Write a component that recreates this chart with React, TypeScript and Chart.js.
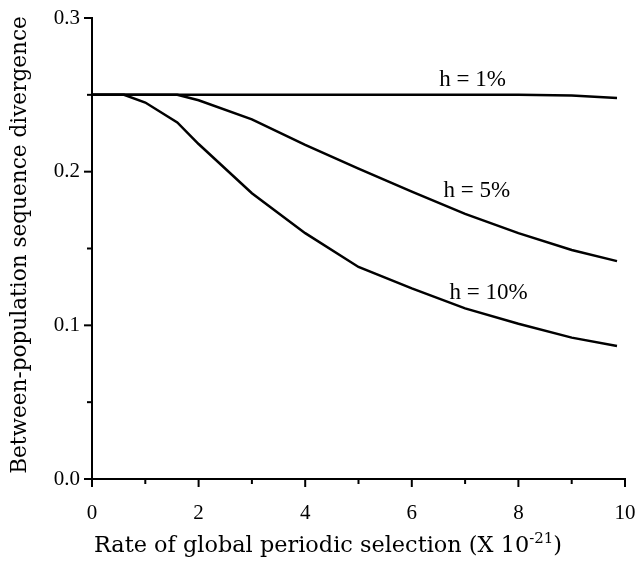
import React, { useEffect, useRef } from "react";
import { Chart, registerables } from "chart.js";

Chart.register(...registerables);

// ---- data ----
const X_VALUES = [0, 0.6, 1, 1.6, 2, 3, 4, 5, 6, 7, 8, 9, 9.85];
const H1 = [0.25, 0.25, 0.25, 0.25, 0.25, 0.25, 0.25, 0.25, 0.25, 0.25, 0.25, 0.2495, 0.248];
const H5 = [0.25, 0.25, 0.25, 0.25, 0.2465, 0.234, 0.2175, 0.202, 0.187, 0.1725, 0.16, 0.149, 0.1418];
const H10 = [0.25, 0.25, 0.245, 0.232, 0.218, 0.186, 0.16, 0.138, 0.124, 0.111, 0.101, 0.092, 0.0865];
const SERIES_NAMES = ["h = 1%", "h = 5%", "h = 10%"];
const LABEL_X = [7.14, 7.22, 7.44];
const LABEL_Y = [0.2596, 0.1874, 0.121];
const X_TICKS = [0, 1, 2, 3, 4, 5, 6, 7, 8, 9, 10];
const Y_TICKS = [0, 0.05, 0.1, 0.15, 0.2, 0.25, 0.3];
const X_TITLE = "Rate of global periodic selection (X 10";
const X_TITLE_SUP = "-21";
const X_TITLE_END = ")";
const Y_TITLE = "Between-population sequence divergence";

const FONT = "'Liberation Serif', 'Times New Roman', serif";
const TITLE_FONT = "'DejaVu Serif', serif";

const decorPlugin = {
  id: "decor",
  afterDraw(chart: any) {
    const ctx = chart.ctx;
    const xs = chart.scales.x;
    const ys = chart.scales.y;
    const area = chart.chartArea;
    ctx.save();
    ctx.strokeStyle = "#000";
    ctx.lineWidth = 2;
    // x ticks
    X_TICKS.forEach((v) => {
      const px = xs.getPixelForValue(v);
      const len = v % 2 === 0 ? 8 : 5;
      ctx.beginPath();
      ctx.moveTo(px, area.bottom);
      ctx.lineTo(px, area.bottom + len);
      ctx.stroke();
    });
    // y ticks
    Y_TICKS.forEach((v, i) => {
      const py = ys.getPixelForValue(v);
      const len = i % 2 === 0 ? 8 : 5;
      ctx.beginPath();
      ctx.moveTo(area.left, py);
      ctx.lineTo(area.left - len, py);
      ctx.stroke();
    });
    // series labels
    ctx.fillStyle = "#000";
    ctx.font = `23px ${FONT}`;
    ctx.textAlign = "center";
    ctx.textBaseline = "middle";
    SERIES_NAMES.forEach((name, i) => {
      ctx.fillText(name, xs.getPixelForValue(LABEL_X[i]), ys.getPixelForValue(LABEL_Y[i]));
    });
    // x title with superscript
    const mainFont = `22.4px ${TITLE_FONT}`;
    const supFont = `15px ${TITLE_FONT}`;
    ctx.font = mainFont;
    const w1 = ctx.measureText(X_TITLE).width;
    const w3 = ctx.measureText(X_TITLE_END).width;
    ctx.font = supFont;
    const w2 = ctx.measureText(X_TITLE_SUP).width;
    const total = w1 + w2 + w3;
    const cx = 328;
    const baseY = 552;
    const x0 = cx - total / 2;
    ctx.textAlign = "left";
    ctx.textBaseline = "alphabetic";
    ctx.font = mainFont;
    ctx.fillText(X_TITLE, x0, baseY);
    ctx.font = supFont;
    ctx.fillText(X_TITLE_SUP, x0 + w1, baseY - 9);
    ctx.font = mainFont;
    ctx.fillText(X_TITLE_END, x0 + w1 + w2, baseY);
    // y title
    ctx.save();
    ctx.translate(26, 245);
    ctx.rotate(-Math.PI / 2);
    ctx.textAlign = "center";
    ctx.textBaseline = "alphabetic";
    ctx.font = `21.6px ${TITLE_FONT}`;
    ctx.fillText(Y_TITLE, 0, 0);
    ctx.restore();
    ctx.restore();
  },
};

export default function App() {
  const ref = useRef<HTMLCanvasElement>(null);
  useEffect(() => {
    if (!ref.current) return;
    const mk = (ys: number[]) => X_VALUES.map((x, i) => ({ x, y: ys[i] }));
    const lineStyle = {
      borderColor: "#000",
      borderWidth: 2.5,
      pointRadius: 0,
      fill: false,
      tension: 0,
    };
    const hiddenGrid = (len: number) => ({
      display: true,
      drawOnChartArea: false,
      drawTicks: true,
      tickLength: len,
      color: "rgba(0,0,0,0)",
      tickColor: "rgba(0,0,0,0)",
    });
    const chart = new Chart(ref.current, {
      type: "line",
      data: {
        datasets: [
          { label: SERIES_NAMES[0], data: mk(H1), ...lineStyle },
          { label: SERIES_NAMES[1], data: mk(H5), ...lineStyle },
          { label: SERIES_NAMES[2], data: mk(H10), ...lineStyle },
        ],
      },
      options: {
        animation: false,
        responsive: false,
        devicePixelRatio: 1,
        layout: { padding: { top: 18, right: 12, left: 0, bottom: 0 } },
        plugins: { legend: { display: false }, tooltip: { enabled: false } },
        scales: {
          x: {
            type: "linear",
            min: 0,
            max: 10,
            grid: hiddenGrid(22),
            border: { display: true, color: "#000", width: 2 },
            ticks: {
              stepSize: 2,
              maxRotation: 0,
              padding: 0,
              color: "#000",
              font: { family: FONT, size: 21 },
            },
            afterFit: (s: any) => {
              s.height = 86;
            },
          },
          y: {
            type: "linear",
            min: 0,
            max: 0.3,
            grid: hiddenGrid(12),
            border: { display: true, color: "#000", width: 2 },
            ticks: {
              stepSize: 0.1,
              padding: 0,
              color: "#000",
              font: { family: FONT, size: 21 },
              callback: (v: any) => Number(v).toFixed(1),
            },
            afterFit: (s: any) => {
              s.width = 92;
            },
          },
        },
      },
      plugins: [decorPlugin],
    });
    return () => chart.destroy();
  }, []);
  return (
    <div style={{ position: "absolute", left: 0, top: 0, width: 637, height: 565, background: "#fff" }}>
      <canvas ref={ref} width={637} height={565} />
    </div>
  );
}
